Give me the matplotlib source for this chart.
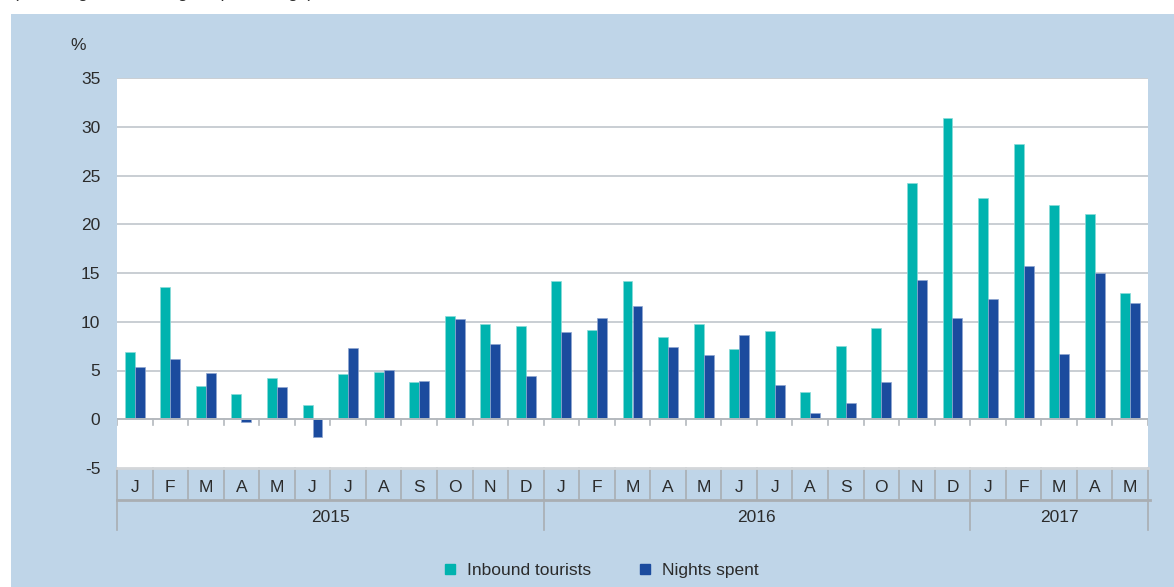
import matplotlib.pyplot as plt
from matplotlib.patches import Rectangle
from matplotlib.lines import Line2D
import matplotlib.transforms as mtransforms

plt.rcParams["font.family"] = ["Liberation Sans", "DejaVu Sans"]
plt.rcParams["axes.unicode_minus"] = False

# --------------------------------------------------------------
# Data (annual change, %)
# --------------------------------------------------------------
months = ["J", "F", "M", "A", "M", "J", "J", "A", "S", "O", "N", "D",
          "J", "F", "M", "A", "M", "J", "J", "A", "S", "O", "N", "D",
          "J", "F", "M", "A", "M"]
years = ["2015", "2016", "2017"]
year_lengths = [12, 12, 5]

inbound_tourists = [6.85, 13.55, 3.42, 2.63, 4.24, 1.47, 4.69, 4.86, 3.83, 10.54, 9.82, 9.58,
                    14.2, 9.2, 14.2, 8.42, 9.78, 7.19, 9.07, 2.77, 7.49, 9.34, 24.23, 30.87,
                    22.72, 28.27, 22.0, 21.05, 13.0]
nights_spent = [5.37, 6.13, 4.76, -0.28, 3.29, -1.8, 7.26, 5.03, 3.97, 10.27, 7.73, 4.45,
                9.0, 10.37, 11.6, 7.39, 6.64, 8.62, 3.56, 0.69, 1.64, 3.87, 14.24, 10.34,
                12.29, 15.71, 6.74, 14.99, 11.88]

y_ticks = [-5, 0, 5, 10, 15, 20, 25, 30, 35]

# --------------------------------------------------------------
# Figure
# --------------------------------------------------------------
W, H = 1174, 587
fig = plt.figure(figsize=(W / 100, H / 100), dpi=100)
fig.patch.set_facecolor("white")

panel_blue = "#BFD5E8"
teal = "#00B3AF"
navy = "#1B4B9E"
grid_col = "#C9CED3"
sep_col = "#A9AEB3"
text_col = "#2B2B2B"
fs = 12.5

# blue background panel as an axes underneath everything
bg = fig.add_axes([11 / W, 0, 1 - 11 / W, 1 - 14 / H], zorder=-1)
bg.set_facecolor(panel_blue)
bg.set_xticks([])
bg.set_yticks([])
for s in bg.spines.values():
    s.set_visible(False)

# heading line, cut off at the top like in the source
fig.text(13 / W, 1 + 2 / H, "(Annual growth, change in percentage)",
         fontsize=fs, color=text_col, va="baseline", ha="left")

ax = fig.add_axes([117 / W, 1 - 468 / H, 1031 / W, 390 / H])
ax.set_facecolor("white")

x = list(range(len(months)))
bw = 0.28
ax.bar([i - bw / 2 for i in x], inbound_tourists, width=bw, color=teal,
       edgecolor="#8ADBD8", linewidth=0.5, zorder=3)
ax.bar([i + bw / 2 for i in x], nights_spent, width=bw, color=navy,
       edgecolor="#8FA6D0", linewidth=0.5, zorder=3)

ax.set_xlim(-0.5, len(months) - 0.5)
ax.set_ylim(-5, 35)
ax.set_yticks(y_ticks)
ax.set_yticklabels([str(v) for v in y_ticks], fontsize=fs, color=text_col)
ax.tick_params(axis="y", length=0, pad=12)
ax.set_xticks([])
for s in ax.spines.values():
    s.set_visible(False)

for v in y_ticks[2:]:
    ax.axhline(v, color=grid_col, linewidth=1.4, zorder=1)
ax.axhline(0, color="#B4B9BE", linewidth=1.4, zorder=4)

fig.text(78 / W, 1 - 45 / H, "%", fontsize=fs, color=text_col, ha="center", va="center")

# small ticks under the zero line
for i in range(len(months) + 1):
    ax.plot([i - 0.5, i - 0.5], [0, -0.55], color="#B4B9BE", linewidth=1.2, zorder=4)

# category cells below the plot
blend = mtransforms.blended_transform_factory(ax.transData, ax.transAxes)
row1 = -32 / 390
row2 = -60 / 390
ax.plot([-0.5, len(months) - 0.5], [0, 0], transform=blend, color="#D3D6D9",
        linewidth=2, clip_on=False, zorder=5)
ax.plot([-0.5, len(months) - 0.5 + 0.05], [row1, row1], transform=blend, color=sep_col,
        linewidth=2, clip_on=False)
for i in range(len(months) + 1):
    ax.plot([i - 0.5, i - 0.5], [0, row1], transform=blend, color=sep_col,
            linewidth=1.2, clip_on=False)
for i, m in enumerate(months):
    ax.text(i, -19 / 390, m, transform=blend, ha="center", va="center",
            fontsize=fs, color=text_col)

start = 0
bounds = [0]
for name, n in zip(years, year_lengths):
    ax.text(start + n / 2 - 0.5, -49 / 390, name, transform=blend, ha="center",
            va="center", fontsize=fs, color=text_col)
    start += n
    bounds.append(start)
for b in bounds:
    ax.plot([b - 0.5, b - 0.5], [row1, row2 - 2 / 390], transform=blend, color=sep_col,
            linewidth=1.2, clip_on=False)

# legend
handles = [Line2D([], [], marker="s", linestyle="none", markersize=6.5, color=teal),
           Line2D([], [], marker="s", linestyle="none", markersize=6.5, color=navy)]
fig.legend(handles, ["Inbound tourists", "Nights spent"], loc="center",
           bbox_to_anchor=(600 / W, 1 - 570 / H), ncol=2, frameon=False,
           fontsize=fs, handlelength=1.0, handletextpad=0.5, columnspacing=2.6,
           labelcolor=text_col)

fig.savefig("out.png", dpi=100, facecolor=fig.get_facecolor())
